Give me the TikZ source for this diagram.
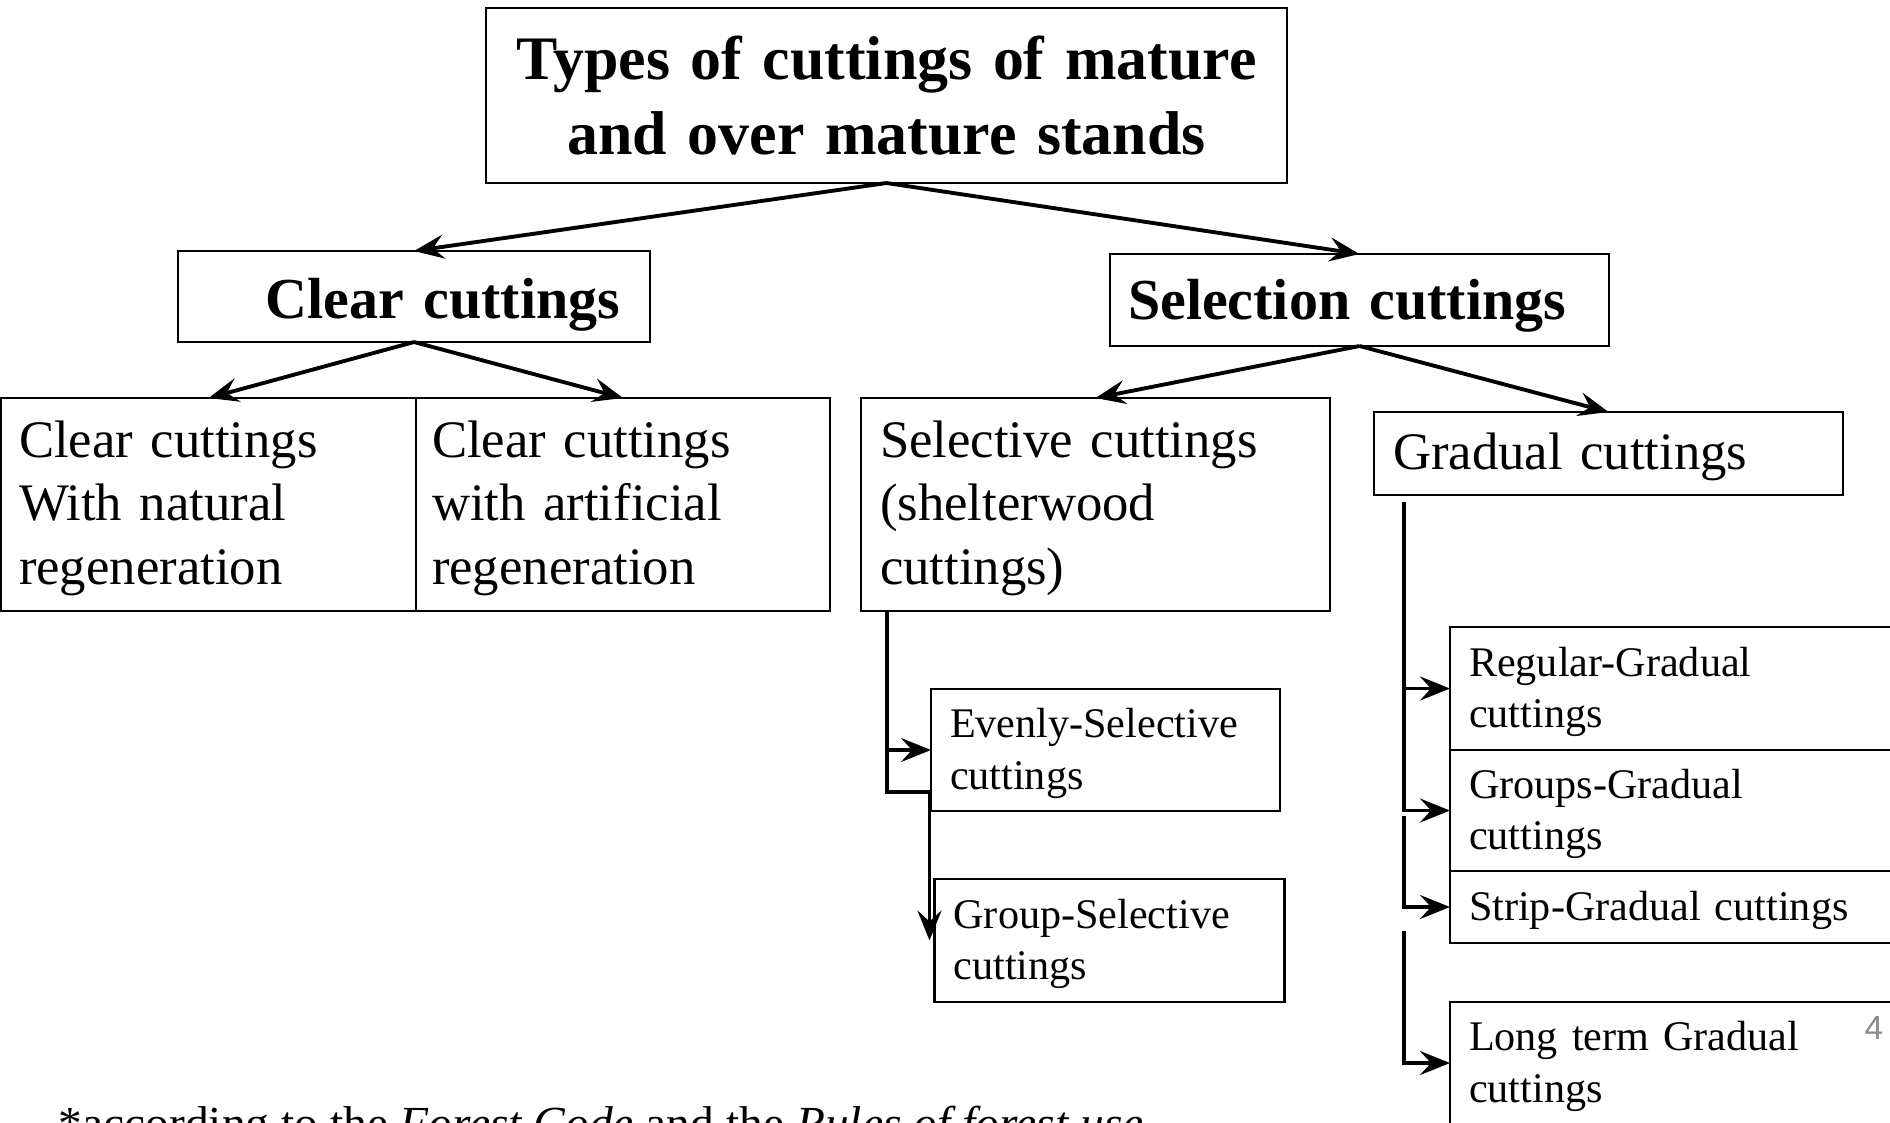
\documentclass[tikz,border=0pt]{standalone}
\usepackage{fontspec}
\setmainfont{Liberation Serif}
\newfontfamily\pagenumfont{Liberation Sans}
\usetikzlibrary{positioning,arrows.meta}

\begin{document}
\begin{tikzpicture}[
font=\fontsize{15}{18}\selectfont,
box/.style={draw, line width=0.6pt, outer sep=0pt, inner xsep=0.18cm, inner ysep=0pt, align=left, text height=12.6pt},
head/.style={box, font=\fontsize{16.5}{19.8}\selectfont\bfseries},
small/.style={box, font=\fontsize{12}{14.6}\selectfont, inner xsep=0.19cm, text height=10.2pt},
arr/.style={-{Stealth[length=0.3cm, width=0.24cm, inset=0.11cm]}, line width=1.1pt}
]
\useasboundingbox (0,0) rectangle (18.9,-11.22);

\node[box, anchor=north west, text width=7.65cm, minimum height=1.75cm, align=center, text height=12.4pt, font=\fontsize{17.6}{21.2}\selectfont\bfseries] (title) at (4.86,-0.08) {Types of cuttings of mature\\and over mature stands};

\node[head, anchor=north west, text width=4.12cm, inner xsep=0.3cm, align=right, minimum height=0.91cm, text height=16pt] (clear) at (1.78,-2.51) {Clear cuttings};
\node[head, anchor=north west, text width=4.63cm, minimum height=0.92cm, text height=14.6pt] (select) at (11.10,-2.54) {Selection cuttings};

\node[box, anchor=north west, text width=3.79cm, minimum height=2.13cm] (natural) at (0.01,-3.98) {Clear cuttings\\With natural\\regeneration};
\node[box, right=0cm of natural, text width=3.82cm, inner xsep=0.16cm, minimum height=2.13cm] (artif) {Clear cuttings\\with artificial\\regeneration};
\node[box, anchor=north west, text width=4.31cm, inner xsep=0.19cm, minimum height=2.13cm] (selc) at (8.61,-3.98) {Selective cuttings\\(shelterwood\\cuttings)};
\node[box, anchor=north west, text width=4.31cm, inner xsep=0.19cm, minimum height=0.83cm] (grad) at (13.74,-4.12) {Gradual cuttings};

\node[small, anchor=north west, text width=3.11cm, minimum height=1.22cm] (even) at (9.31,-6.89) {Evenly-Selective\\cuttings};
\node[small, below=0.68cm of even, xshift=0.04cm, text width=3.12cm, minimum height=1.23cm] (gsel) {Group-Selective\\cuttings};

\node[small, anchor=north west, text width=4.62cm, minimum height=1.23cm] (reg) at (14.50,-6.27) {Regular-Gradual\\cuttings};
\node[small, below=0cm of reg, text width=4.62cm, minimum height=1.21cm] (grp) {Groups-Gradual\\cuttings};
\node[small, below=0cm of grp, text width=4.62cm, minimum height=0.72cm] (strip) {Strip-Gradual cuttings};
\node[small, below=0.59cm of strip, text width=4.62cm, minimum height=1.22cm] (long) {Long term Gradual\\cuttings};

\node[anchor=base west, inner sep=0pt, font=\fontsize{13.5}{16}\selectfont] (note) at (0.58,-11.39) {*according to the \textit{Forest Code} and the \textit{Rules of forest use}};
\node[anchor=base west, inner sep=0pt, text=black!45, font=\pagenumfont\fontsize{9.5}{11}\selectfont] (pnum) at (18.64,-10.39) {4};

\draw[arr] (title.south) -- (clear.north);
\draw[arr] (title.south) -- (select.north);
\draw[arr] (clear.south) -- (natural.north);
\draw[arr] (clear.south) -- (artif.north);
\draw[arr] (select.south) -- (selc.north);
\draw[arr] (select.south) -- (grad.north);

% selective branch
\coordinate (sA) at ([xshift=0.26cm]selc.south west);
\coordinate (sB) at ([yshift=-1.81cm]sA);
\draw[arr] (sA) |- (even.west);
\draw[arr] (sA) -- (sB) -| ([xshift=-0.05cm]gsel.west);

% gradual branch
\coordinate (gA) at (14.04,-5.02);
\coordinate (gB) at (14.04,-8.16);
\coordinate (gC) at (14.04,-9.31);
\draw[arr] (gA) |- (reg.west);
\draw[arr] (reg.west -| gA) |- (grp.west);
\draw[arr] (gB) |- (strip.west);
\draw[arr] (gC) |- (long.west);
\end{tikzpicture}
\end{document}
